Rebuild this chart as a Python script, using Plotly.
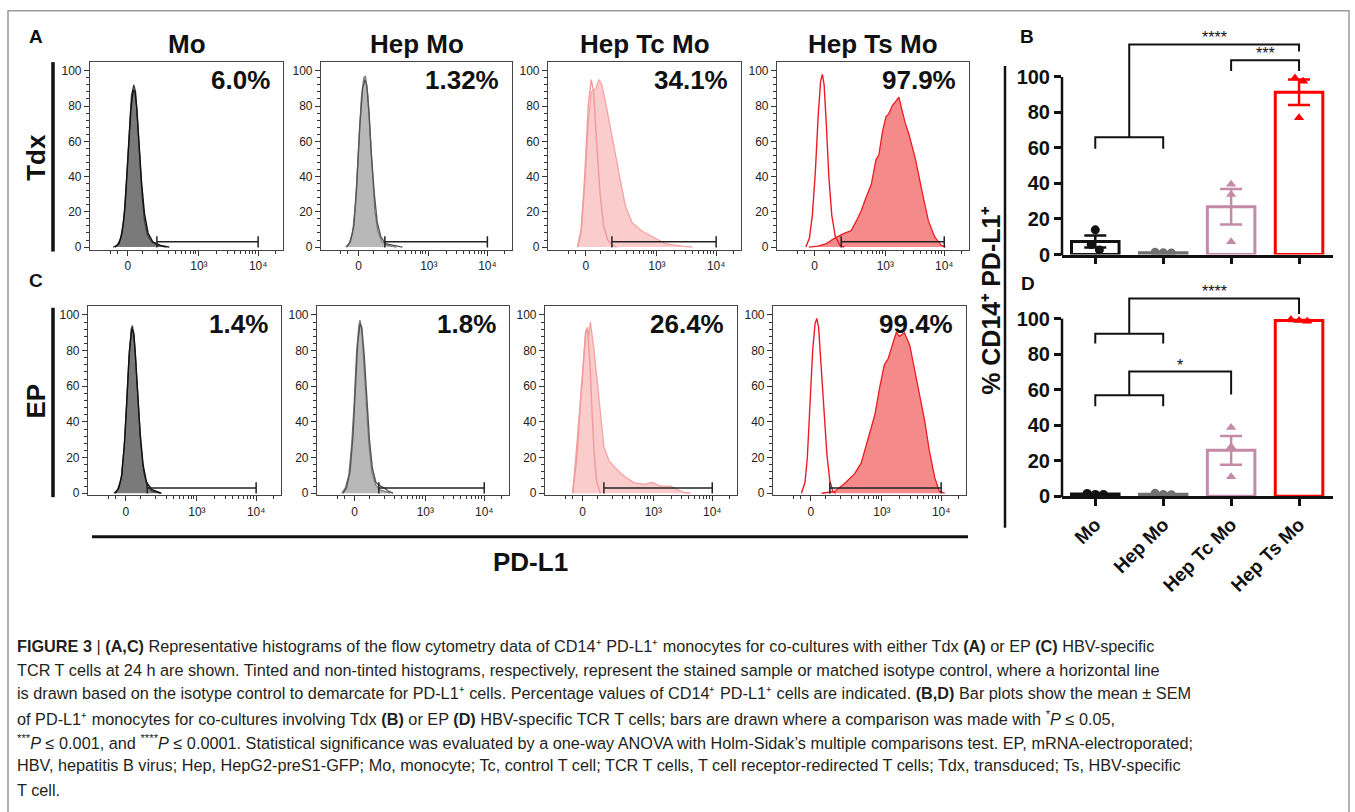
import plotly.graph_objects as go

W, H = 1355, 812
FONT = "Liberation Sans, Arial, sans-serif"
NARROW = "Liberation Sans Narrow, Arial Narrow, Liberation Sans, Arial, sans-serif"

# ---------------- data ----------------
COLUMNS = ["Mo", "Hep Mo", "Hep Tc Mo", "Hep Ts Mo"]
ROW_LABELS = ["Tdx", "EP"]
PCT_TDX = ["6.0%", "1.32%", "34.1%", "97.9%"]
PCT_EP = ["1.4%", "1.8%", "26.4%", "99.4%"]

# histogram curves: (display position in decades of PD-L1, % of max)
MO_TDX_STAINED = [(1.55, 0), (1.62, 1), (1.68, 5), (1.73, 15), (1.78, 40), (1.82, 66), (1.86, 86), (1.90, 92),
                  (1.93, 88), (1.96, 73), (2.00, 50), (2.04, 29), (2.08, 15), (2.13, 7), (2.20, 3), (2.30, 1), (2.45, 0)]
MO_TDX_ISO = [(1.58, 0), (1.65, 2), (1.70, 8), (1.75, 22), (1.80, 50), (1.85, 78), (1.89, 89), (1.92, 88),
              (1.95, 79), (1.99, 59), (2.03, 37), (2.08, 19), (2.14, 8), (2.22, 3), (2.35, 1), (2.50, 0)]
HEPMO_TDX_STAINED = [(1.58, 0), (1.64, 2), (1.70, 8), (1.75, 25), (1.80, 55), (1.85, 85), (1.89, 96), (1.92, 97),
                     (1.96, 86), (2.00, 62), (2.04, 38), (2.08, 20), (2.13, 9), (2.20, 3), (2.30, 1), (2.45, 0)]
HEPMO_TDX_ISO = [(1.60, 0), (1.66, 3), (1.72, 12), (1.77, 35), (1.82, 68), (1.87, 90), (1.91, 95), (1.94, 92),
                 (1.98, 76), (2.02, 52), (2.07, 30), (2.12, 14), (2.18, 6), (2.26, 2), (2.40, 1), (2.55, 0)]
HEPTC_TDX_STAINED = [(1.66, 0), (1.72, 8), (1.78, 35), (1.84, 70), (1.89, 88), (1.93, 89), (1.97, 90), (2.02, 95),
                     (2.07, 92), (2.15, 79), (2.24, 62), (2.32, 49), (2.38, 38), (2.47, 23), (2.58, 14), (2.75, 9),
                     (2.92, 6), (3.14, 2), (3.42, 0.5), (3.60, 0)]
HEPTC_TDX_ISO = [(1.66, 0), (1.72, 10), (1.78, 40), (1.84, 80), (1.89, 95), (1.93, 88), (1.98, 60), (2.04, 30),
                 (2.10, 12), (2.17, 4), (2.25, 1), (2.32, 0)]
HEPTS_TDX_STAINED = [(1.70, 0), (1.85, 0.5), (2.00, 2), (2.12, 4.7), (2.28, 7.5), (2.42, 9.4), (2.51, 15),
                     (2.59, 20.6), (2.67, 28), (2.76, 35.5), (2.84, 49.5), (2.89, 52.3), (2.95, 65.4), (3.01, 73.9),
                     (3.06, 75.7), (3.12, 80.4), (3.17, 82.3), (3.23, 85.1), (3.28, 78), (3.34, 70), (3.40, 64),
                     (3.45, 57), (3.51, 50), (3.62, 32), (3.73, 15), (3.84, 5.6), (3.95, 1), (4.02, 0)]
HEPTS_TDX_ISO = [(1.65, 0), (1.71, 5), (1.76, 18), (1.81, 42), (1.86, 75), (1.90, 94), (1.93, 98), (1.96, 92),
                 (2.00, 68), (2.04, 40), (2.09, 18), (2.15, 6), (2.23, 1), (2.30, 0)]

MO_EP_STAINED = [(1.60, 0), (1.66, 2), (1.72, 8), (1.77, 25), (1.81, 48), (1.85, 75), (1.89, 92), (1.91, 94),
                 (1.94, 88), (1.98, 66), (2.01, 47), (2.05, 28), (2.10, 12), (2.16, 4), (2.25, 1), (2.38, 0)]
MO_EP_ISO = [(1.62, 0), (1.68, 3), (1.73, 10), (1.78, 30), (1.82, 55), (1.86, 80), (1.90, 92), (1.93, 90),
             (1.96, 78), (2.00, 56), (2.04, 34), (2.09, 16), (2.15, 6), (2.24, 2), (2.40, 0)]
HEPMO_EP_STAINED = [(1.58, 0), (1.64, 3), (1.70, 10), (1.75, 28), (1.79, 50), (1.83, 78), (1.87, 94), (1.89, 97),
                    (1.92, 92), (1.96, 72), (2.00, 48), (2.04, 28), (2.09, 12), (2.15, 5), (2.22, 2), (2.30, 1), (2.40, 0)]
HEPMO_EP_ISO = [(1.60, 0), (1.66, 3), (1.72, 12), (1.77, 32), (1.81, 58), (1.85, 84), (1.89, 95), (1.92, 93),
                (1.96, 78), (2.00, 54), (2.05, 30), (2.10, 14), (2.16, 6), (2.24, 4), (2.30, 3), (2.38, 1), (2.45, 0)]
HEPTC_EP_STAINED = [(1.63, 0), (1.71, 29), (1.80, 66), (1.85, 91), (1.88, 92), (1.90, 88), (1.93, 96), (1.99, 81),
                    (2.05, 61), (2.11, 42), (2.16, 26), (2.25, 18), (2.36, 14), (2.45, 11), (2.53, 9), (2.67, 6),
                    (2.84, 5), (2.98, 6), (3.12, 4), (3.29, 4), (3.41, 2), (3.52, 0.4), (3.63, 0)]
HEPTC_EP_ISO = [(1.63, 0), (1.70, 20), (1.78, 60), (1.85, 90), (1.88, 93), (1.92, 75), (1.96, 45), (2.00, 20),
                (2.04, 6), (2.10, 0)]
HEPTS_EP_STAINED = [(1.98, 0), (2.20, 1), (2.37, 5.5), (2.54, 11), (2.65, 17), (2.76, 30), (2.88, 44), (2.96, 59),
                    (3.04, 72), (3.10, 75), (3.19, 85), (3.24, 90), (3.30, 88), (3.38, 90), (3.47, 83), (3.55, 69),
                    (3.63, 55), (3.72, 41), (3.80, 24), (3.89, 9), (3.97, 1), (4.06, 0)]
HEPTS_EP_ISO = [(1.64, 0), (1.70, 6), (1.74, 20), (1.78, 48), (1.83, 80), (1.87, 95), (1.90, 98), (1.93, 93),
                (1.97, 72), (2.02, 46), (2.07, 22), (2.12, 7), (2.17, 1), (2.22, 0)]

STAINED = [[MO_TDX_STAINED, HEPMO_TDX_STAINED, HEPTC_TDX_STAINED, HEPTS_TDX_STAINED],
           [MO_EP_STAINED, HEPMO_EP_STAINED, HEPTC_EP_STAINED, HEPTS_EP_STAINED]]
ISOTYPE = [[MO_TDX_ISO, HEPMO_TDX_ISO, HEPTC_TDX_ISO, HEPTS_TDX_ISO],
           [MO_EP_ISO, HEPMO_EP_ISO, HEPTC_EP_ISO, HEPTS_EP_ISO]]
GATE_START_TDX = [2.29, 2.25, 2.24, 2.25]
GATE_START_EP = [2.16, 2.21, 2.16, 2.12]
GATE_END = 4.0
GATE_LEVEL = 3

X_TICK_POS = [1.8, 3, 4]
X_TICK_TEXT = ["0", "10³", "10⁴"]

# bar plots: individual donors, % CD14+ PD-L1+
TDX_POINTS = [[13.9, 5.6, 2.6], [1.2, 0.9, 1.0], [39.6, 33.8, 7.2], [99.4, 97.6, 77.0]]
EP_POINTS = [[1.5, 1.0, 1.0], [1.6, 1.0, 0.8], [38.7, 27.9, 10.9], [99.5, 98.5, 99.0]]

# comparisons: (left x, right x, bar level, left drop, right drop)
TDX_BRACKETS = [(0, 1, 66, 59.6, 59.6), (0.5, 3, 118.3, 66, 114.3), (2, 3, 109.4, 103.3, 103.3)]
TDX_STARS = [("****", 1.75, 122), ("***", 2.5, 113)]
EP_BRACKETS = [(0, 1, 91.5, 86, 86), (0.5, 3, 111.3, 91.5, 102.6), (0, 1, 56.8, 50.7, 50.7), (0.5, 2, 70.2, 56.8, 57.2)]
EP_STARS = [("****", 1.75, 115), ("*", 1.25, 73.5)]

CAPTION = [
    "<b>FIGURE 3</b> | <b>(A,C)</b> Representative histograms of the flow cytometry data of CD14⁺ PD-L1⁺ monocytes for co-cultures with either Tdx <b>(A)</b> or EP <b>(C)</b> HBV-specific",
    "TCR T cells at 24 h are shown. Tinted and non-tinted histograms, respectively, represent the stained sample or matched isotype control, where a horizontal line",
    "is drawn based on the isotype control to demarcate for PD-L1⁺ cells. Percentage values of CD14⁺ PD-L1⁺ cells are indicated. <b>(B,D)</b> Bar plots show the mean ± SEM",
    "of PD-L1⁺ monocytes for co-cultures involving Tdx <b>(B)</b> or EP <b>(D)</b> HBV-specific TCR T cells; bars are drawn where a comparison was made with <sup>*</sup><i>P</i> ≤ 0.05,",
    "<sup>***</sup><i>P</i> ≤ 0.001, and <sup>****</sup><i>P</i> ≤ 0.0001. Statistical significance was evaluated by a one-way ANOVA with Holm-Sidak’s multiple comparisons test. EP, mRNA-electroporated;",
    "HBV, hepatitis B virus; Hep, HepG2-preS1-GFP; Mo, monocyte; Tc, control T cell; TCR T cells, T cell receptor-redirected T cells; Tdx, transduced; Ts, HBV-specific",
    "T cell.",
]

# ---------------- styling / layout ----------------
def fx(p):
    return p / W


def fy(p):
    return 1 - p / H


HIST_XDOM = [[(90, 283), (321, 512), (548, 741), (777, 969)],
             [(88, 281), (317, 509), (545, 737), (773, 966)]]
HIST_YDOM = [(63, 253), (310, 502)]
HIST_YRANGE = [(-1.4, 104.9), (-1.1, 105.1)]
HIST_XRANGE = [1.16, 4.42]
MINOR_X = [1.5, 1.62, 2.05, 2.3, 2.48, 2.6, 2.7, 2.78, 2.85, 2.9, 2.95,
           3.3, 3.48, 3.6, 3.7, 3.78, 3.85, 3.9, 3.95, 4.3]
MINOR_Y = [v for v in range(0, 101, 4) if v % 20 != 0]
STYLE = [("#7a7a7a", "#3a3a3a", "#111111"),
         ("#b8b8b8", "#808080", "#555555"),
         ("rgba(248,182,182,0.7)", "#f4a3a3", "#f29a9a"),
         ("#f58a8a", "#ec1c24", "#ec1c24")]
BAR_COLORS = ["#111111", "#707070", "#c48aa8", "#ff0000"]
BAR_SYMBOLS = ["circle", "circle", "triangle-up", "triangle-up"]

fig = go.Figure()
layout = dict(width=W, height=H, margin=dict(l=0, r=0, t=0, b=0), autosize=False,
              paper_bgcolor="white", plot_bgcolor="white", showlegend=False,
              barmode="overlay", font=dict(family=FONT, color="#111"))
annotations = []
shapes = []

for r in range(2):
    pcts = PCT_TDX if r == 0 else PCT_EP
    gstarts = GATE_START_TDX if r == 0 else GATE_START_EP
    for c in range(4):
        n = r * 4 + c + 1
        sfx = "" if n == 1 else str(n)
        xr, yr = "x" + sfx, "y" + sfx
        fill, sline, iline = STYLE[c]
        st = STAINED[r][c]
        iso = ISOTYPE[r][c]
        fig.add_trace(go.Scatter(x=[p[0] for p in st], y=[p[1] for p in st], mode="lines",
                                 fill="tozeroy", fillcolor=fill, line=dict(color=sline, width=1.3),
                                 xaxis=xr, yaxis=yr, hoverinfo="skip"))
        fig.add_trace(go.Scatter(x=[p[0] for p in iso], y=[p[1] for p in iso], mode="lines",
                                 line=dict(color=iline, width=1.4), xaxis=xr, yaxis=yr, hoverinfo="skip"))
        fig.add_trace(go.Scatter(x=[gstarts[c], GATE_END], y=[GATE_LEVEL, GATE_LEVEL], mode="lines+markers",
                                 line=dict(color="#222", width=1.5),
                                 marker=dict(symbol="line-ns", size=8, line=dict(width=1.5, color="#222")),
                                 xaxis=xr, yaxis=yr, hoverinfo="skip"))
        x0, x1 = HIST_XDOM[r][c]
        y0, y1 = HIST_YDOM[r]
        layout["xaxis" + sfx] = dict(
            domain=[fx(x0), fx(x1)], range=HIST_XRANGE, anchor=yr, tickmode="array",
            tickvals=X_TICK_POS, ticktext=X_TICK_TEXT, ticks="outside", ticklen=5, tickwidth=1.2,
            tickcolor="#333",
            minor=dict(tickmode="array", tickvals=MINOR_X, ticks="outside", ticklen=3, tickwidth=1,
                       tickcolor="#333"),
            showline=True, mirror=True, linecolor="#444", linewidth=1.2, showgrid=False, zeroline=False,
            tickfont=dict(family=FONT, size=12, color="#222"), fixedrange=True)
        layout["yaxis" + sfx] = dict(
            domain=[fy(y1), fy(y0)], range=list(HIST_YRANGE[r]), anchor=xr, tickmode="array",
            tickvals=[0, 20, 40, 60, 80, 100], ticks="outside", ticklen=5, tickwidth=1.2, tickcolor="#333",
            minor=dict(tickmode="array", tickvals=MINOR_Y, ticks="outside", ticklen=3, tickwidth=1,
                       tickcolor="#333"),
            showline=True, mirror=True, linecolor="#444", linewidth=1.2, showgrid=False, zeroline=False,
            tickfont=dict(family=FONT, size=12, color="#222"), fixedrange=True)
        annotations.append(dict(text="<b>%s</b>" % pcts[c], xref=xr + " domain", yref=yr + " domain",
                                x=0.945, y=0.905, xanchor="right", yanchor="middle", showarrow=False,
                                font=dict(family=FONT, size=26, color="#111")))


def spread(vals, tol=4.0, step=0.12):
    order = sorted(range(len(vals)), key=lambda k: -vals[k])
    groups, cur = [], [order[0]]
    for k in order[1:]:
        if abs(vals[cur[-1]] - vals[k]) < tol:
            cur.append(k)
        else:
            groups.append(cur)
            cur = [k]
    groups.append(cur)
    out = [0.0] * len(vals)
    for g in groups:
        m = len(g)
        for j, k in enumerate(g):
            out[k] = (j - (m - 1) / 2) * step
    return out


BAR_PANELS = [(9, TDX_POINTS, TDX_BRACKETS, TDX_STARS, (33, 258), False),
              (10, EP_POINTS, EP_BRACKETS, EP_STARS, (278, 503), True)]
for n, pts, brackets, stars, (ytop, ybot), labels in BAR_PANELS:
    xr, yr = "x%d" % n, "y%d" % n
    for i, vals in enumerate(pts):
        mean = sum(vals) / len(vals)
        sd = (sum((v - mean) ** 2 for v in vals) / (len(vals) - 1)) ** 0.5
        sem = sd / len(vals) ** 0.5
        col = BAR_COLORS[i]
        fig.add_trace(go.Bar(x=[i], y=[mean], width=0.7,
                             marker=dict(color="white", line=dict(color=col, width=3)),
                             error_y=dict(type="data", array=[sem], color=col, thickness=2.5, width=11),
                             xaxis=xr, yaxis=yr, hoverinfo="skip"))
        offs = spread(vals)
        fig.add_trace(go.Scatter(x=[i + o for o in offs], y=vals, mode="markers",
                                 marker=dict(symbol=BAR_SYMBOLS[i], size=9, color=col),
                                 xaxis=xr, yaxis=yr, hoverinfo="skip"))
    for (xa, xb, lvl, da, db) in brackets:
        shapes.append(dict(type="path", xref=xr, yref=yr,
                           path="M %s,%s L %s,%s L %s,%s L %s,%s" % (xa, da, xa, lvl, xb, lvl, xb, db),
                           line=dict(color="#111", width=2)))
    for (txt, sx, sy) in stars:
        annotations.append(dict(text=txt, xref=xr, yref=yr, x=sx, y=sy, showarrow=False,
                                xanchor="center", yanchor="middle",
                                font=dict(family=FONT, size=16, color="#111")))
    layout["xaxis%d" % n] = dict(
        domain=[fx(1062), fx(1333)], range=[-0.49, 3.5], anchor=yr, tickmode="array",
        tickvals=[0, 1, 2, 3], ticktext=["<b>%s</b>" % s for s in COLUMNS], showticklabels=labels,
        tickangle=-45, tickfont=dict(family=FONT, size=19, color="#111"),
        ticks="outside", ticklen=7, tickwidth=2.5, tickcolor="#111",
        showline=True, linewidth=2.5, linecolor="#111", showgrid=False, zeroline=False, fixedrange=True)
    layout["yaxis%d" % n] = dict(
        domain=[fy(ybot), fy(ytop)], range=[0, 125], anchor=xr, tickmode="array",
        tickvals=[0, 20, 40, 60, 80, 100], ticktext=["<b>%d</b>" % v for v in [0, 20, 40, 60, 80, 100]],
        ticks="outside", ticklen=7, tickwidth=2.5, tickcolor="#111", showline=False, showgrid=False,
        zeroline=False, tickfont=dict(family=FONT, size=20, color="#111"), fixedrange=True)
    y100 = ybot - 100 * (ybot - ytop) / 125.0
    shapes.append(dict(type="line", xref="paper", yref="paper", x0=fx(1062), x1=fx(1062),
                       y0=fy(ybot + 1), y1=fy(y100), line=dict(color="#111", width=2.5)))

# figure frame
shapes.append(dict(type="rect", xref="paper", yref="paper", x0=fx(8), x1=fx(1349), y0=-0.2, y1=fy(11),
                   line=dict(color="#9a9a9a", width=1.5)))
# row brackets, PD-L1 line, y-title line
shapes.append(dict(type="line", xref="paper", yref="paper", x0=fx(53), x1=fx(53), y0=fy(255), y1=fy(63),
                   line=dict(color="#111", width=3.5)))
shapes.append(dict(type="line", xref="paper", yref="paper", x0=fx(53), x1=fx(53), y0=fy(504), y1=fy(312),
                   line=dict(color="#111", width=3.5)))
shapes.append(dict(type="line", xref="paper", yref="paper", x0=fx(92), x1=fx(968), y0=fy(544), y1=fy(544),
                   line=dict(color="#111", width=3)))
shapes.append(dict(type="line", xref="paper", yref="paper", x0=fx(1005), x1=fx(1005), y0=fy(535), y1=fy(67),
                   line=dict(color="#111", width=2.5)))


def label(text, x, y, size, rot=0, xanchor="center", family=FONT, color="#111"):
    annotations.append(dict(text=text, xref="paper", yref="paper", x=fx(x), y=fy(y), showarrow=False,
                            xanchor=xanchor, yanchor="middle", textangle=rot,
                            font=dict(family=family, size=size, color=color)))


label("<b>A</b>", 36, 37, 19)
label("<b>C</b>", 36, 284, 19)
label("<b>B</b>", 1027, 37, 19)
label("<b>D</b>", 1028, 287, 19)
col_centers = [187, 417, 645, 873]
for name, cx in zip(COLUMNS, col_centers):
    label("<b>%s</b>" % name, cx, 45, 26)
label("<b>%s</b>" % ROW_LABELS[0], 36, 160, 26, rot=-90)
label("<b>%s</b>" % ROW_LABELS[1], 36, 407, 26, rot=-90)
label("<b>PD-L1</b>", 530, 570, 26)
label("<b>% CD14⁺ PD-L1⁺</b>", 991, 305, 25, rot=-90)

cap_y = [655, 679, 703, 728, 752, 776, 801]
for line, yy in zip(CAPTION, cap_y):
    label(line, 15, yy, 16.25, xanchor="left", family=NARROW, color="#231f20")

layout["annotations"] = annotations
layout["shapes"] = shapes
fig.update_layout(**layout)

fig.write_html("out.html", config={"displayModeBar": False},
               post_script="document.body.style.margin='0';document.body.style.overflow='hidden';")
